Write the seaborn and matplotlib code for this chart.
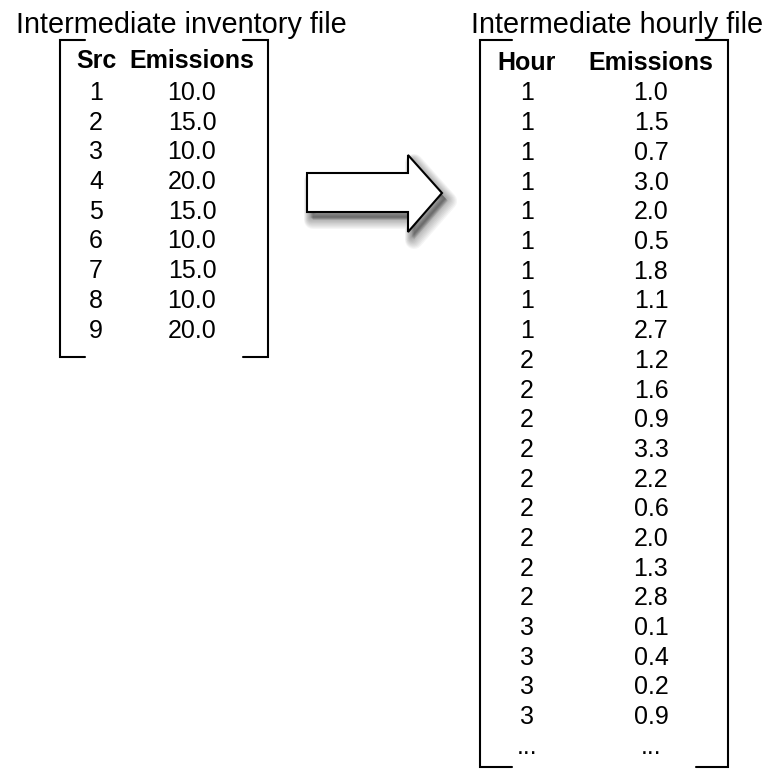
import pandas as pd
import seaborn as sns
import matplotlib.pyplot as plt
from matplotlib.patches import Polygon

# data
inv_title = "Intermediate inventory file"
inv_cols = ["Src", "Emissions"]
inv_src = [1, 2, 3, 4, 5, 6, 7, 8, 9]
inv_emis = [10.0, 15.0, 10.0, 20.0, 15.0, 10.0, 15.0, 10.0, 20.0]

hr_title = "Intermediate hourly file"
hr_cols = ["Hour", "Emissions"]
hr_hour = [1, 1, 1, 1, 1, 1, 1, 1, 1,
           2, 2, 2, 2, 2, 2, 2, 2, 2,
           3, 3, 3, 3]
hr_emis = [1.0, 1.5, 0.7, 3.0, 2.0, 0.5, 1.8, 1.1, 2.7,
           1.2, 1.6, 0.9, 3.3, 2.2, 0.6, 2.0, 1.3, 2.8,
           0.1, 0.4, 0.2, 0.9]

inv = pd.DataFrame({"Src": inv_src, "Emissions": inv_emis})
hr = pd.DataFrame({"Hour": hr_hour, "Emissions": hr_emis})

sns.set_theme(style="white")
plt.rcParams["font.family"] = ["Liberation Sans", "DejaVu Sans"]
plt.rcParams["text.color"] = "black"

fig = plt.figure(figsize=(7.65, 7.80), dpi=100)
ax = fig.add_axes([0, 0, 1, 1])
ax.set_xlim(0, 765)
ax.set_ylim(780, 0)
ax.axis("off")

TXT = 18
TITLE = 20.8
LW = 1.5
step = 29.7


def bracket(x0, x1, y0, y1, tick):
    ax.plot([x0 + tick, x0, x0, x0 + tick], [y0, y0, y1, y1], color="black", lw=LW,
            solid_joinstyle="miter")
    ax.plot([x1 - tick, x1, x1, x1 - tick], [y0, y0, y1, y1], color="black", lw=LW,
            solid_joinstyle="miter")


def table(df, cols, xs, head_y, first_y, dots=False):
    for c, x in zip(cols, xs):
        ax.text(x, head_y, c, ha="center", va="baseline", fontsize=TXT,
                fontweight="bold", color="black")
    for i, (a, b) in enumerate(zip(df[cols[0]].tolist(), df[cols[1]].tolist())):
        y = first_y + i * step
        ax.text(xs[0], y, f"{a:d}", ha="center", va="baseline", fontsize=TXT, color="black")
        ax.text(xs[1], y, f"{b:.1f}", ha="center", va="baseline", fontsize=TXT, color="black")
    if dots:
        y = first_y + len(df) * step
        for x in xs:
            ax.text(x, y, "...", ha="center", va="baseline", fontsize=TXT, color="black")


# left table
ax.text(181, 33, inv_title, ha="center", va="baseline", fontsize=TITLE, color="black")
bracket(60, 268, 40, 357, 25)
table(inv, inv_cols, [96, 192], 68, 100)

# right table
ax.text(617, 33, hr_title, ha="center", va="baseline", fontsize=TITLE, color="black")
bracket(480, 728, 40, 767, 32)
table(hr, hr_cols, [527, 651], 70, 100.5, dots=True)

# arrow with soft shadow
arrow = [(307, 173), (408, 173), (408, 155), (442, 193), (408, 232), (408, 212), (307, 212)]
for k in range(10, 0, -1):
    shadow = [(x + 3 + k * 0.3, y + 5 + k * 0.3) for x, y in arrow]
    ax.add_patch(Polygon(shadow, closed=True, facecolor="black", edgecolor="black",
                         lw=k * 1.3, alpha=0.04, joinstyle="round"))
ax.add_patch(Polygon(arrow, closed=True, facecolor="white", edgecolor="black", lw=LW,
                     joinstyle="miter"))

fig.savefig("out.png", dpi=100)
